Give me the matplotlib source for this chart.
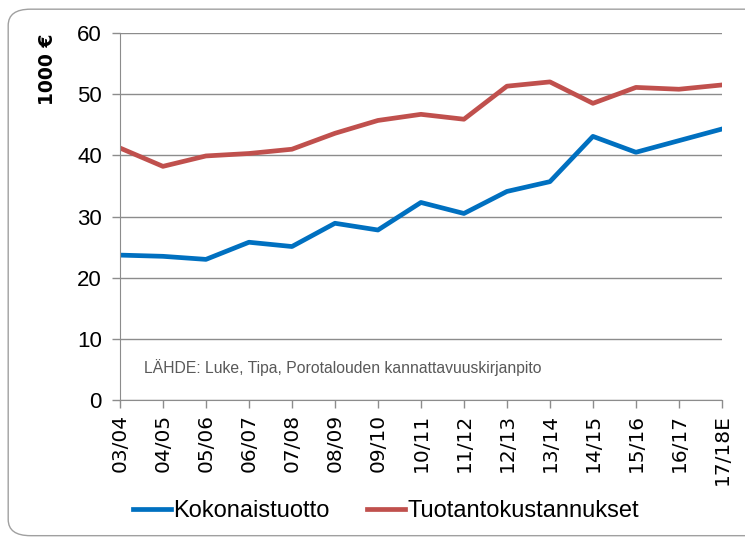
import matplotlib
matplotlib.use("Agg")
import matplotlib.pyplot as plt
from matplotlib.patches import FancyBboxPatch

# kaudet
seasons = ["03/04", "04/05", "05/06", "06/07", "07/08", "08/09", "09/10",
           "10/11", "11/12", "12/13", "13/14", "14/15", "15/16", "16/17", "17/18E"]
# 1000 €
kokonaistuotto = [23.7, 23.5, 23.0, 25.8, 25.1, 28.9, 27.8, 32.3, 30.5,
                  34.1, 35.7, 43.1, 40.5, 42.4, 44.3]
tuotantokustannukset = [41.2, 38.2, 39.9, 40.3, 41.0, 43.6, 45.7, 46.7, 45.9,
                        51.3, 52.0, 48.5, 51.1, 50.8, 51.5]
yticks = [0, 10, 20, 30, 40, 50, 60]

narrow = ["Liberation Sans Narrow", "Liberation Sans", "DejaVu Sans"]

fig = plt.figure(figsize=(7.45, 5.4), dpi=100)
fig.patch.set_facecolor("white")

# pyöristetty kehys, oikea reuna jää kuvan ulkopuolelle
frame = FancyBboxPatch((0.011, 0.008), 1.05, 0.975, transform=fig.transFigure,
                       boxstyle="round,pad=0,rounding_size=0.03",
                       facecolor="none", edgecolor="#a0a0a0", linewidth=1.0)
fig.patches.append(frame)

ax = fig.add_axes([0.161, 0.259, 0.808, 0.68])
x = range(len(seasons))
ax.plot(x, kokonaistuotto, color="#0070C0", lw=3.4, label="Kokonaistuotto",
        solid_joinstyle="round")
ax.plot(x, tuotantokustannukset, color="#C0504D", lw=3.4,
        label="Tuotantokustannukset", solid_joinstyle="round")

ax.set_xlim(0, len(seasons) - 1)
ax.set_ylim(0, 60)
ax.set_yticks(yticks)
ax.set_yticklabels([str(v) for v in yticks], family=narrow, fontsize=16)
ax.set_xticks(list(x))
ax.set_xticklabels(seasons, rotation=90, fontsize=14.5, family="DejaVu Sans")
ax.grid(axis="y", color="#8c8c8c", lw=1.0)
ax.set_axisbelow(True)
for s in ["top", "right"]:
    ax.spines[s].set_visible(False)
for s in ["left", "bottom"]:
    ax.spines[s].set_color("#8c8c8c")
ax.tick_params(axis="both", color="#8c8c8c", length=6, width=1.0)
ax.tick_params(axis="y", pad=7)
ax.tick_params(axis="x", pad=4)
ax.set_ylabel("1000 €", fontsize=13.5, fontweight="bold")
ax.yaxis.set_label_coords(-0.105, 0.9)

ax.text(0.04, 0.075, "LÄHDE: Luke, Tipa, Porotalouden kannattavuuskirjanpito",
        transform=ax.transAxes, fontsize=11.3, color="#595959", family=narrow)

fig.legend(loc="center", bbox_to_anchor=(0.518, 0.054), ncol=2, frameon=False,
           prop={"family": narrow, "size": 17}, handlelength=1.6,
           handletextpad=0.1, columnspacing=1.6)

fig.savefig("out.png", dpi=100)
